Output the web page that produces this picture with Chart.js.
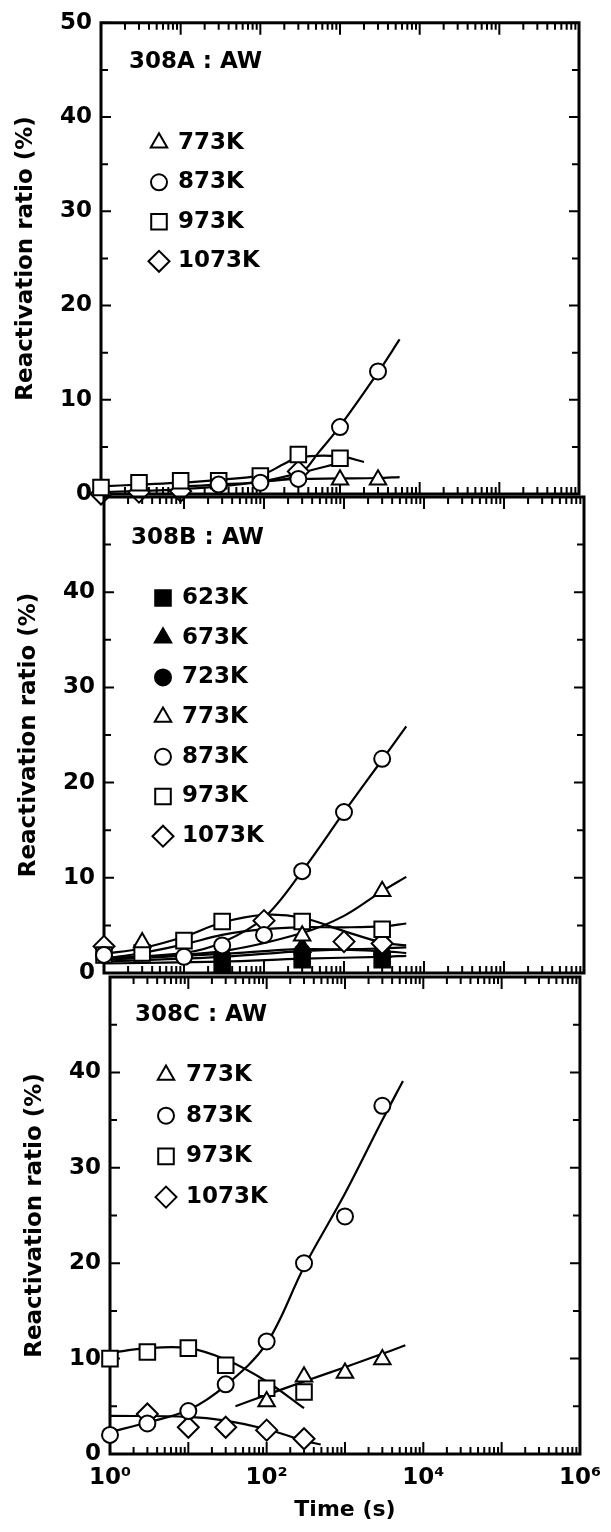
<!DOCTYPE html>
<html>
<head>
<meta charset="utf-8">
<title>Reactivation ratio vs time</title>
<script src="https://cdn.jsdelivr.net/npm/chart.js@4/dist/chart.umd.min.js"></script>
<style>
  body { margin: 0; background: #fff; }
  #wrap { position: relative; width: 611px; height: 1532px; }
  #wrap canvas { position: absolute; left: 0; top: 0; }
</style>
</head>
<body>
<div id="wrap">
  <canvas id="chartA" width="611" height="1532"></canvas>
  <canvas id="chartB" width="611" height="1532"></canvas>
  <canvas id="chartC" width="611" height="1532"></canvas>
</div>
<script>
// ================= DATA =================
const times = [1, 3, 10, 30, 100, 300, 1000, 3000];
const xTickValues = [1, 100, 10000, 1000000];
const xTickLabels = ["10⁰", "10²", "10⁴", "10⁶"];
const yTickValues = [0, 10, 20, 30, 40, 50];

// ----- 308A : AW -----
const a773 = [null, null, null, null, null, null, 1.5, 1.5];
const a873 = [null, null, null, 1.0, 1.2, 1.6, 7.1, 13.0];
const a973 = [0.7, 1.2, 1.4, 1.4, 1.9, 4.2, 3.8, null];
const a1073 = [0.0, 0.2, 0.3, null, null, 2.4, null, null];
// fitted curves, [time, ratio]
const aFit773 = [[100, 1.4], [300, 1.6], [1000, 1.65], [3000, 1.7], [5600, 1.8]];
const aFit873 = [[10, 0.8], [30, 1.0], [100, 1.3], [300, 2.0], [550, 4.5], [1000, 7.2], [3000, 12.9], [5600, 16.4]];
const aFit973 = [[1, 0.8], [3, 1.0], [10, 1.2], [30, 1.5], [100, 2.0], [200, 3.2], [300, 3.9], [1000, 4.0], [2000, 3.4]];
const aFit1073 = [[1, 0.2], [10, 0.5], [30, 0.8], [100, 1.3], [300, 2.2], [1000, 3.3]];

// ----- 308B : AW -----
const b623 = [null, null, null, 1.0, null, 1.4, null, 1.4];
const b673 = [null, null, null, null, null, 2.7, null, 2.2];
const b723 = [null, null, null, 1.8, null, 2.2, null, 2.0];
const b773 = [null, 3.2, null, null, null, 3.9, null, 8.6];
const b873 = [1.9, null, 1.7, 2.9, 4.0, 10.7, 16.9, 22.5];
const b973 = [1.9, 2.1, 3.4, 5.4, null, 5.4, null, 4.6];
const b1073 = [2.8, null, null, null, 5.5, null, 3.3, 3.1];
const bFit623 = [[1, 1.0], [30, 1.2], [300, 1.5], [3000, 1.7], [6000, 1.8]];
const bFit673 = [[1, 1.2], [30, 1.7], [300, 2.3], [3000, 2.6], [6000, 2.7]];
const bFit723 = [[1, 1.4], [30, 2.0], [300, 2.5], [3000, 2.3], [6000, 2.1]];
const bFit773 = [[1, 1.4], [30, 2.3], [300, 4.2], [1000, 6.0], [3000, 8.6], [6000, 10.1]];
const bFit873 = [[1, 1.6], [10, 2.1], [30, 3.2], [100, 5.8], [300, 10.7], [1000, 16.9], [3000, 22.4], [6000, 25.9]];
const bFit973 = [[1, 1.5], [3, 2.1], [10, 3.0], [30, 4.0], [100, 4.6], [300, 4.8], [1000, 4.8], [3000, 4.9], [6000, 5.2]];
const bFit1073 = [[1, 2.0], [3, 2.6], [10, 3.8], [30, 5.3], [100, 6.1], [300, 5.8], [1000, 4.4], [3000, 3.2], [6000, 2.9]];

// ----- 308C : AW -----
const c773 = [null, null, null, null, 5.5, 8.1, 8.5, 9.9];
const c873 = [2.0, 3.2, 4.5, 7.3, 11.8, 20.0, 24.9, 36.5];
const c973 = [10.0, 10.7, 11.1, 9.3, 6.9, 6.5, null, null];
const c1073 = [null, 4.2, 2.8, 2.8, 2.5, 1.6, null, null];
const cFit773 = [[40, 5.0], [100, 6.2], [300, 7.6], [1000, 9.1], [3000, 10.5], [5900, 11.4]];
const cFit873 = [[1, 2.3], [3, 3.3], [10, 4.6], [30, 7.2], [100, 11.6], [300, 19.6], [1000, 27.3], [3000, 35.0], [5500, 39.1]];
const cFit973 = [[1, 10.6], [3, 11.1], [10, 11.1], [30, 9.9], [100, 7.6], [300, 4.8]];
const cFit1073 = [[1, 4.0], [10, 3.9], [30, 3.5], [100, 2.6], [300, 1.4], [490, 1.0]];

// ================= STYLES =================
const FONT = '"DejaVu Sans", sans-serif';
Chart.defaults.font.family = FONT;
Chart.defaults.color = "#000";

const STYLE = {
  "623K": { shape: "rect", filled: true },
  "673K": { shape: "triangle", filled: true },
  "723K": { shape: "circle", filled: true },
  "773K": { shape: "triangle", filled: false },
  "873K": { shape: "circle", filled: false },
  "973K": { shape: "rect", filled: false },
  "1073K": { shape: "rectRot", filled: false }
};
const RADIUS = { circle: 8, rect: 11, rectRot: 10.5, triangle: 9.5 };

function markers(label, values) {
  const s = STYLE[label];
  const fill = s.filled ? "#000" : "#fff";
  return {
    label,
    legend: true,
    data: times.map((t, i) => ({ x: t, y: values[i] })),
    showLine: false,
    pointStyle: s.shape,
    pointRadius: RADIUS[s.shape],
    pointBackgroundColor: fill,
    backgroundColor: fill,
    pointBorderColor: "#000",
    borderColor: "#000",
    pointBorderWidth: 2,
    clip: false,
    order: s.filled ? 2 : 1
  };
}

function fitLine(pairs) {
  return {
    data: pairs.map(([x, y]) => ({ x, y })),
    showLine: true,
    pointRadius: 0,
    borderColor: "#000",
    borderWidth: 2.2,
    tension: 0.35,
    fill: false,
    order: 3
  };
}

// ===== box + inward tick marks =====
const frame = {
  id: "frame",
  beforeDatasetsDraw(chart) {
    const { ctx, chartArea: a, scales: { x, y } } = chart;
    ctx.save();
    ctx.strokeStyle = "#000";
    ctx.lineWidth = 3;
    ctx.strokeRect(a.left, a.top, a.right - a.left, a.bottom - a.top);
    ctx.lineWidth = 2;
    ctx.beginPath();
    for (let v = 0; v <= 50; v += 5) {
      const py = y.getPixelForValue(v);
      const len = v % 10 === 0 ? 10 : 7;
      ctx.moveTo(a.left, py); ctx.lineTo(a.left + len, py);
      ctx.moveTo(a.right, py); ctx.lineTo(a.right - len, py);
    }
    for (let k = 0; k < 6; k++) {
      for (let m = 1; m <= 9; m++) {
        const px = x.getPixelForValue(m * Math.pow(10, k));
        const len = m === 1 ? 12 : 7;
        ctx.moveTo(px, a.bottom); ctx.lineTo(px, a.bottom - len);
        ctx.moveTo(px, a.top); ctx.lineTo(px, a.top + len);
      }
    }
    ctx.stroke();
    ctx.restore();
  }
};

// ===== panel title + legend inside the plot =====
const panelText = {
  id: "panelText",
  afterDraw(chart, args, opts) {
    const { ctx, chartArea: a } = chart;
    ctx.save();
    ctx.font = "bold 23px " + FONT;
    ctx.textBaseline = "middle";
    ctx.textAlign = "left";
    ctx.fillStyle = "#000";
    ctx.fillText(opts.title, a.left + opts.titleX, a.top + opts.titleY);
    chart.data.datasets.filter(d => d.legend).forEach((d, i) => {
      const cy = a.top + opts.rowY + i * opts.rowGap;
      ctx.fillStyle = d.backgroundColor;
      ctx.strokeStyle = "#000";
      ctx.lineWidth = 2;
      Chart.helpers.drawPoint(ctx, {
        pointStyle: d.pointStyle, radius: d.pointRadius, borderWidth: 2, rotation: 0
      }, a.left + opts.symX, cy);
      ctx.fillStyle = "#000";
      ctx.fillText(d.label, a.left + opts.textX, cy);
    });
    ctx.restore();
  }
};

function makePanel(id, p) {
  return new Chart(document.getElementById(id), {
    type: "line",
    data: {
      datasets: [
        ...p.series.map(([label, values]) => markers(label, values)),
        ...p.fits.map(fitLine)
      ]
    },
    options: {
      responsive: false,
      animation: false,
      events: [],
      devicePixelRatio: 1,
      layout: { padding: p.padding },
      plugins: {
        legend: { display: false },
        tooltip: { enabled: false },
        panelText: p.text
      },
      scales: {
        x: {
          type: "logarithmic",
          min: 1,
          max: 1e6,
          grid: { display: false, drawTicks: false },
          border: { display: false },
          afterBuildTicks: s => { s.ticks = xTickValues.map(v => ({ value: v })); },
          ticks: {
            display: p.showX,
            padding: 10,
            autoSkip: false,
            maxRotation: 0,
            minRotation: 0,
            font: { size: 23, weight: "bold" },
            callback: v => xTickLabels[xTickValues.indexOf(v)] ?? ""
          },
          title: {
            display: p.showX,
            text: "Time (s)",
            font: { size: 22, weight: "bold" },
            padding: { top: 0, bottom: 9 }
          },
          afterFit: s => { s.height = p.xHeight; }
        },
        y: {
          min: 0,
          max: 50,
          grid: { display: false, drawTicks: false },
          border: { display: false },
          afterBuildTicks: s => {
            s.ticks = yTickValues.filter(v => v <= p.yTop).map(v => ({ value: v }));
          },
          ticks: { padding: 9, font: { size: 23, weight: "bold" } },
          title: {
            display: true,
            text: "Reactivation ratio (%)",
            font: { size: 23, weight: "bold" },
            padding: { top: 12, bottom: 0 }
          },
          afterFit: s => { s.width = 101; }
        }
      }
    },
    plugins: [frame, panelText]
  });
}

// ================= PANELS =================
makePanel("chartA", {
  series: [["773K", a773], ["873K", a873], ["973K", a973], ["1073K", a1073]],
  fits: [aFit773, aFit873, aFit973, aFit1073],
  padding: { left: 0, top: 18, right: 32, bottom: 1038 },
  showX: false, xHeight: 0, yTop: 50,
  text: { title: "308A : AW", titleX: 28, titleY: 39, symX: 58, textX: 77, rowY: 120, rowGap: 39.5 }
});

makePanel("chartB", {
  series: [["623K", b623], ["673K", b673], ["723K", b723], ["773K", b773],
           ["873K", b873], ["973K", b973], ["1073K", b1073]],
  fits: [bFit623, bFit673, bFit723, bFit773, bFit873, bFit973, bFit1073],
  padding: { left: 3, top: 497, right: 27, bottom: 559 },
  showX: false, xHeight: 0, yTop: 40,
  text: { title: "308B : AW", titleX: 27, titleY: 41, symX: 59, textX: 78, rowY: 101, rowGap: 39.7 }
});

makePanel("chartC", {
  series: [["773K", c773], ["873K", c873], ["973K", c973], ["1073K", c1073]],
  fits: [cFit773, cFit873, cFit973, cFit1073],
  padding: { left: 9, top: 977, right: 23, bottom: 0 },
  showX: true, xHeight: 78, yTop: 40,
  text: { title: "308C : AW", titleX: 25, titleY: 38, symX: 56, textX: 76, rowY: 98, rowGap: 40.7 }
});
</script>
</body>
</html>
